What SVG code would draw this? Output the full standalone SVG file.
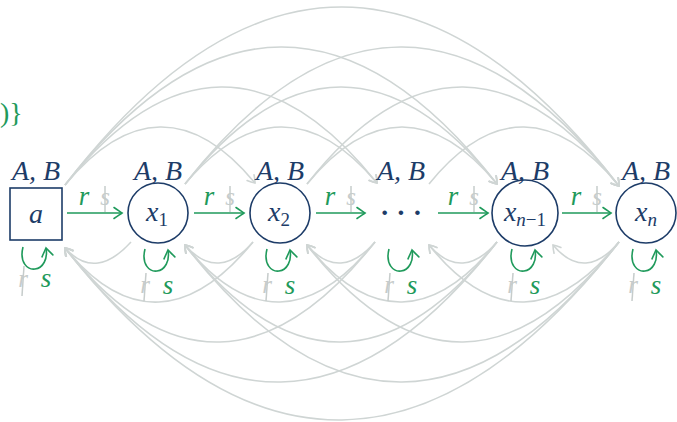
<svg xmlns="http://www.w3.org/2000/svg" width="677" height="422" viewBox="0 0 677 422">
<defs>
<marker id="ga" markerUnits="userSpaceOnUse" markerWidth="14" markerHeight="14" viewBox="-9 -7 11 14" refX="0" refY="0" orient="auto" overflow="visible">
<path d="M-7,-4.5 C-4,-3 -1.2,-1 0,0 C-1.2,1 -4,3 -7,4.5" fill="none" stroke="#cfd5d4" stroke-width="1.6" stroke-linecap="round"/>
</marker>
<marker id="gr" markerUnits="userSpaceOnUse" markerWidth="14" markerHeight="14" viewBox="-10 -7 12 14" refX="0" refY="0" orient="auto" overflow="visible">
<path d="M-8,-5.5 C-5,-3.5 -1.5,-1 0,0 C-1.5,1 -5,3.5 -8,5.5" fill="none" stroke="#1f9a5b" stroke-width="1.6" stroke-linecap="round"/>
</marker>
</defs>
<style>
.arc{fill:none;stroke:#cfd5d4;stroke-width:1.6;marker-end:url(#ga)}
.edge{fill:none;stroke:#1f9a5b;stroke-width:1.6;marker-end:url(#gr)}
.node{fill:#fff;stroke:#1d3c68;stroke-width:1.6}
text{font-family:"Liberation Serif","DejaVu Serif",serif}
.lab{font-style:italic;fill:#1d3c68;font-size:28px;text-anchor:middle}
.ab{font-style:italic;fill:#1d3c68;font-size:28px;text-anchor:middle}
.gt{font-style:italic;fill:#1f9a5b;font-size:27px;text-anchor:middle}
.st{font-style:italic;fill:#c6cccb;font-size:25px;text-anchor:middle}
.sl{stroke:#c6cccb;stroke-width:1.5}
.up{font-style:normal}
</style>
<text x="0" y="122" font-size="28" fill="#1f9a5b">)}</text>
<g id="connectors">
<path class="arc" d="M65,185 C127.7,109 192.3,107 255,183"/>
<path class="arc" d="M185,184 C248.4,108.7 313.6,107.7 377,183"/>
<path class="arc" d="M307,184 C369.7,108 434.3,108 497,184"/>
<path class="arc" d="M429,184 C491.7,106.7 556.3,108.7 619,186"/>
<path class="arc" d="M65,185 C168,55.7 274,53.7 377,183"/>
<path class="arc" d="M185,184 C288,54.7 394,54.7 497,184"/>
<path class="arc" d="M307,184 C410,53.3 516,55.3 619,186"/>
<path class="arc" d="M65,185 C207.6,1.7 354.4,0.7 497,184"/>
<path class="arc" d="M185,184 C328.2,0 475.8,2 619,186"/>
<path class="arc" d="M65,185 C247.8,-53 436.2,-52 619,186"/>
<path class="arc" d="M131,242 C109.2,266 86.8,272 65,248"/>
<path class="arc" d="M253,242 C230.6,268 207.4,271 185,245"/>
<path class="arc" d="M375,242 C352.6,268 329.4,271 307,245"/>
<path class="arc" d="M497,242 C474.6,268 451.4,271 429,245"/>
<path class="arc" d="M619,242 C597.2,268 574.8,271 553,245"/>
<path class="arc" d="M253,242 C191,318 127,324 65,248"/>
<path class="arc" d="M375,242 C312.3,320 247.7,323 185,245"/>
<path class="arc" d="M497,242 C434.3,320 369.7,323 307,245"/>
<path class="arc" d="M619,242 C556.3,320 491.7,323 429,245"/>
<path class="arc" d="M375,242 C272.7,371.3 167.3,377.3 65,248"/>
<path class="arc" d="M497,242 C394,373.3 288,376.3 185,245"/>
<path class="arc" d="M619,242 C516,373.3 410,376.3 307,245"/>
<path class="arc" d="M497,242 C354.4,424.7 207.6,430.7 65,248"/>
<path class="arc" d="M619,242 C475.8,426.7 328.2,429.7 185,245"/>
<path class="arc" d="M619,242 C436.2,475.3 247.8,481.3 65,248"/>
<path class="edge" d="M67,213 H122"/>
<path class="edge" d="M194,213 H244"/>
<path class="edge" d="M316,213 H365"/>
<path class="edge" d="M438,213 H488"/>
<path class="edge" d="M562,213 H611"/>
<path class="edge" d="M23,247 C19,263 28,270 35,269 C43,268 48,259 46,248"/>
<path class="edge" d="M145,249 C141,265 150,272 157,271 C165,270 170,261 168,250"/>
<path class="edge" d="M267,249 C263,265 272,272 279,271 C287,270 292,261 290,250"/>
<path class="edge" d="M389,249 C385,265 394,272 401,271 C409,270 414,261 412,250"/>
<path class="edge" d="M512,249 C508,265 517,272 524,271 C532,270 537,261 535,250"/>
<path class="edge" d="M633,249 C629,265 638,272 645,271 C653,270 658,261 656,250"/>
</g>
<g id="edge-labels">
<text class="gt" x="84" y="205">r</text>
<text class="st" x="105" y="205">s</text><line class="sl" x1="105" y1="186" x2="105" y2="212"/>
<text class="gt" x="209" y="205">r</text>
<text class="st" x="230" y="205">s</text><line class="sl" x1="230" y1="186" x2="230" y2="212"/>
<text class="gt" x="330" y="205">r</text>
<text class="st" x="351" y="205">s</text><line class="sl" x1="351" y1="186" x2="351" y2="212"/>
<text class="gt" x="453" y="205">r</text>
<text class="st" x="474" y="205">s</text><line class="sl" x1="474" y1="186" x2="474" y2="212"/>
<text class="gt" x="576" y="205">r</text>
<text class="st" x="597" y="205">s</text><line class="sl" x1="597" y1="186" x2="597" y2="212"/>
<text class="gt" x="46" y="287">s</text>
<text class="st" x="23" y="287">r</text><line class="sl" x1="24" y1="266" x2="22" y2="296"/>
<text class="gt" x="168" y="294">s</text>
<text class="st" x="145" y="293">r</text><line class="sl" x1="146" y1="273" x2="144" y2="301"/>
<text class="gt" x="290" y="294">s</text>
<text class="st" x="267" y="293">r</text><line class="sl" x1="268" y1="273" x2="266" y2="301"/>
<text class="gt" x="412" y="294">s</text>
<text class="st" x="389" y="293">r</text><line class="sl" x1="390" y1="273" x2="388" y2="301"/>
<text class="gt" x="535" y="294">s</text>
<text class="st" x="512" y="293">r</text><line class="sl" x1="513" y1="273" x2="511" y2="301"/>
<text class="gt" x="656" y="294">s</text>
<text class="st" x="633" y="293">r</text><line class="sl" x1="634" y1="273" x2="632" y2="301"/>
</g>
<g id="node-a">
<rect class="node" x="10" y="188" width="52" height="52"/>
<text class="lab" x="36" y="223">a</text>
<text class="ab" x="36" y="180">A, B</text>
</g>
<g id="node-x1">
<circle class="node" cx="158" cy="213" r="30"/>
<text class="lab" x="157" y="221">x<tspan class="up" font-size="19" dy="5">1</tspan></text>
<text class="ab" x="158" y="180">A, B</text>
</g>
<g id="node-x2">
<circle class="node" cx="280" cy="213" r="30"/>
<text class="lab" x="279" y="221">x<tspan class="up" font-size="19" dy="5">2</tspan></text>
<text class="ab" x="280" y="180">A, B</text>
</g>
<g id="node-dots">
<text class="lab" x="401" y="222" style="font-style:normal;font-weight:bold">· · ·</text>
<text class="ab" x="401" y="180">A, B</text>
</g>
<g id="node-xn-1">
<circle class="node" cx="525" cy="213" r="33"/>
<text class="lab" x="525" y="221">x<tspan font-size="19" dy="5">n</tspan><tspan class="up" font-size="19">−1</tspan></text>
<text class="ab" x="525" y="180">A, B</text>
</g>
<g id="node-xn">
<circle class="node" cx="646" cy="213" r="30"/>
<text class="lab" x="646" y="221">x<tspan font-size="19" dy="5">n</tspan></text>
<text class="ab" x="646" y="180">A, B</text>
</g>
</svg>
